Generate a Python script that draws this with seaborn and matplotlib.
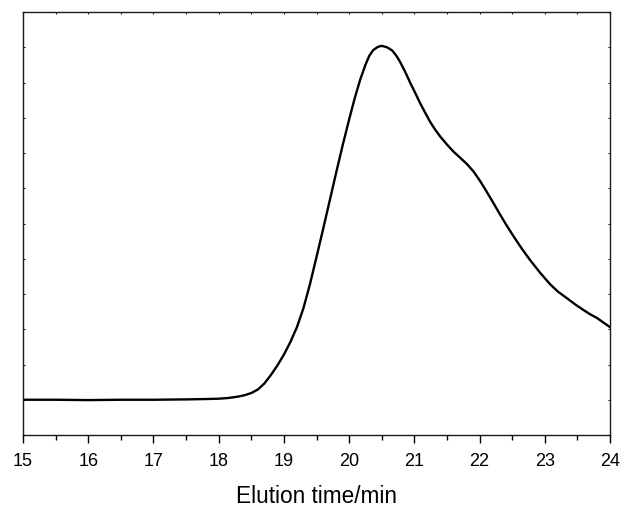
import numpy as np
import pandas as pd
import matplotlib
matplotlib.use("Agg")
import matplotlib.pyplot as plt
import seaborn as sns

# Elution profile (detector response, arbitrary units)
elution_time = [15.0, 15.5, 16.0, 16.5, 17.0, 17.5, 17.8, 18.0, 18.15, 18.3,
                18.4, 18.5, 18.6, 18.7, 18.8, 18.9, 19.0, 19.1, 19.2, 19.3,
                19.4, 19.5, 19.6, 19.7, 19.8, 19.9, 20.0, 20.09, 20.17, 20.25,
                20.31, 20.37, 20.44, 20.50, 20.58, 20.66, 20.72, 20.78, 20.86, 20.94,
                21.02, 21.09, 21.17, 21.24, 21.32, 21.40, 21.50, 21.60, 21.70, 21.81,
                21.91, 22.01, 22.10, 22.20, 22.30, 22.40, 22.52, 22.65, 22.78, 22.93,
                23.08, 23.20, 23.34, 23.47, 23.59, 23.70, 23.80, 23.90, 24.0]
signal = [1.00, 1.00, 0.99, 1.00, 1.00, 1.01, 1.02, 1.03, 1.05, 1.09,
          1.13, 1.19, 1.29, 1.46, 1.70, 1.97, 2.28, 2.64, 3.06, 3.60,
          4.28, 5.05, 5.83, 6.63, 7.43, 8.21, 8.95, 9.58, 10.08, 10.50,
          10.76, 10.92, 11.01, 11.04, 11.00, 10.91, 10.77, 10.59, 10.30, 9.98,
          9.68, 9.41, 9.13, 8.89, 8.66, 8.46, 8.24, 8.04, 7.87, 7.68,
          7.47, 7.20, 6.93, 6.62, 6.30, 5.99, 5.64, 5.28, 4.95, 4.60,
          4.28, 4.07, 3.88, 3.70, 3.55, 3.42, 3.32, 3.19, 3.06]
x_ticks = [15, 16, 17, 18, 19, 20, 21, 22, 23, 24]
x_label = "Elution time/min"

sns.set_style("ticks")
plt.rcParams["font.family"] = ["Liberation Sans", "DejaVu Sans"]

df = pd.DataFrame({"t": elution_time, "s": signal})

fig = plt.figure(figsize=(6.25, 5.08), dpi=100)
ax = fig.add_axes([23 / 625, 73 / 508, 587 / 625, 423 / 508])

sns.lineplot(data=df, x="t", y="s", ax=ax, color="black", linewidth=1.7,
             estimator=None, sort=False, solid_joinstyle="round",
             solid_capstyle="round")

ax.set_xlim(15, 24)
ax.set_ylim(0, 12)
ax.set_xticks(x_ticks)
ax.set_xticklabels([str(v) for v in x_ticks], fontsize=13, color="black")
ax.set_xticks(np.arange(15.5, 24, 1.0), minor=True)
ax.set_yticks(np.arange(0, 13, 1))
ax.set_yticklabels([])
ax.set_xlabel(x_label, fontsize=16.3, labelpad=11, color="black")
ax.set_ylabel("")

for sp in ax.spines.values():
    sp.set_visible(True)
    sp.set_linewidth(1.0)
    sp.set_color("#1a1a1a")

ax.tick_params(axis="x", which="major", direction="out", length=6, width=1.0,
               pad=7, colors="black")
ax.tick_params(axis="x", which="minor", direction="out", length=3.5, width=1.0,
               colors="black")
ax.tick_params(axis="y", which="major", direction="in", length=1.5, width=0.8,
               left=True, right=True, colors="#1a1a1a")

top = ax.secondary_xaxis("top")
top.set_xticks(np.arange(15, 24.01, 0.5))
top.set_xticklabels([])
top.tick_params(direction="in", length=1.5, width=0.8, colors="#1a1a1a")
top.spines["top"].set_visible(False)

fig.savefig("out.png", dpi=100)
